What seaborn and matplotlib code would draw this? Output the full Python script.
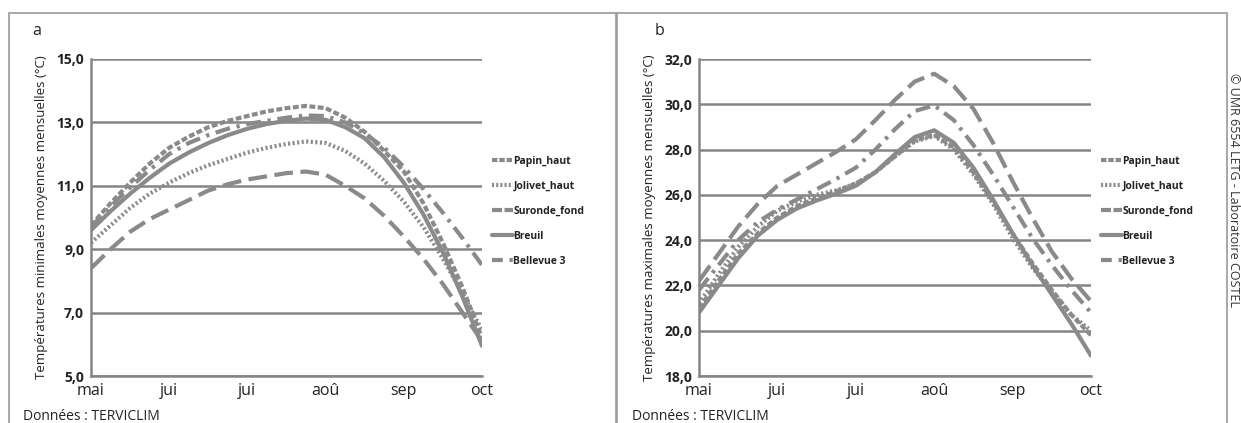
import numpy as np
import pandas as pd
import matplotlib
matplotlib.use("Agg")
import matplotlib.pyplot as plt
import seaborn as sns
from matplotlib.patches import Rectangle
from matplotlib.lines import Line2D

# ---------------- data ----------------
month_labels = ["mai", "jui", "jui", "aoû", "sep", "oct"]
month_pos = [0, 1, 2, 3, 4, 5]
x_pos = [0, 0.25, 0.5, 0.75, 1, 1.25, 1.5, 1.75, 2, 2.25, 2.5, 2.75, 3,
         3.25, 3.5, 3.75, 4, 4.25, 4.5, 4.75, 5]
stations = ["Papin_haut", "Jolivet_haut", "Suronde_fond", "Breuil", "Bellevue 3"]

# panel a : minimal temperatures
papin_min = [9.75, 10.45, 11.1, 11.7, 12.2, 12.55, 12.85, 13.05, 13.2, 13.35, 13.45,
             13.52, 13.45, 13.15, 12.7, 12.1, 11.45, 10.45, 9.2, 7.8, 6.2]
jolivet_min = [9.2, 9.75, 10.3, 10.75, 11.1, 11.4, 11.65, 11.85, 12.05, 12.2, 12.32,
               12.4, 12.35, 12.1, 11.7, 11.15, 10.5, 9.7, 8.7, 7.6, 6.45]
suronde_min = [8.4, 9.0, 9.55, 9.95, 10.25, 10.55, 10.85, 11.05, 11.2, 11.3, 11.4,
               11.45, 11.35, 11.0, 10.6, 10.05, 9.4, 8.7, 7.9, 7.0, 6.1]
breuil_min = [9.6, 10.2, 10.75, 11.25, 11.7, 12.05, 12.35, 12.6, 12.8, 12.95, 13.05,
              13.12, 13.08, 12.85, 12.5, 11.9, 11.1, 10.1, 8.9, 7.5, 5.95]
bellevue_min = [9.7, 10.35, 10.95, 11.5, 12.0, 12.35, 12.6, 12.8, 12.95, 13.05, 13.15,
                13.22, 13.2, 13.0, 12.65, 12.2, 11.6, 10.9, 10.15, 9.35, 8.5]

# panel b : maximal temperatures
papin_max = [21.0, 22.2, 23.4, 24.3, 25.0, 25.5, 25.85, 26.15, 26.5, 27.0, 27.7,
             28.4, 28.65, 28.1, 27.0, 25.7, 24.3, 23.0, 21.8, 20.7, 19.8]
jolivet_max = [21.2, 22.5, 23.7, 24.6, 25.3, 25.7, 26.0, 26.2, 26.5, 27.0, 27.7,
               28.35, 28.6, 28.0, 26.9, 25.6, 24.1, 22.8, 21.7, 20.7, 20.0]
suronde_max = [22.2, 23.4, 24.6, 25.6, 26.4, 26.9, 27.4, 27.9, 28.45, 29.3, 30.2,
               31.0, 31.35, 30.8, 29.8, 28.3, 26.6, 25.0, 23.5, 22.3, 21.3]
breuil_max = [20.8, 22.0, 23.2, 24.2, 24.9, 25.4, 25.75, 26.05, 26.4, 27.0, 27.8,
              28.55, 28.85, 28.3, 27.2, 25.8, 24.3, 22.9, 21.6, 20.3, 18.9]
bellevue_max = [21.8, 22.9, 24.0, 24.8, 25.35, 25.8, 26.25, 26.7, 27.2, 28.0, 28.9,
                29.7, 29.95, 29.3, 28.2, 26.9, 25.5, 24.1, 22.9, 21.8, 20.8]

yticks_a = [5, 7, 9, 11, 13, 15]
yticks_b = [18, 20, 22, 24, 26, 28, 30, 32]

# ---------------- style ----------------
sns.set_theme(style="white")
plt.rcParams["font.family"] = ["Open Sans", "DejaVu Sans"]

LINE = "#8a8a8a"
GRID = "#858585"
TXT = "#222222"
LW = 3.0

palette = {s: LINE for s in stations}
dashes = {
    "Papin_haut": (1.4, 0.6),
    "Jolivet_haut": (0.5, 0.6),
    "Suronde_fond": (4.5, 1.8),
    "Breuil": "",
    "Bellevue 3": (3.6, 1.6, 0.8, 1.6),
}
legend_dashes = {
    "Papin_haut": (1.3, 0.45),
    "Jolivet_haut": (0.5, 0.5),
    "Suronde_fond": (2.4, 0.6),
    "Breuil": "",
    "Bellevue 3": (2.6, 1.6, 0.8, 3.0),
}


def long_df(series):
    rows = []
    for name, vals in zip(stations, series):
        for x, v in zip(x_pos, vals):
            rows.append({"x": x, "t": v, "station": name})
    return pd.DataFrame(rows)


df_a = long_df([papin_min, jolivet_min, suronde_min, breuil_min, bellevue_min])
df_b = long_df([papin_max, jolivet_max, suronde_max, breuil_max, bellevue_max])

fig = plt.figure(figsize=(12.41, 4.23), dpi=100)
fig.patch.set_facecolor("white")

# panel frames
fig.add_artist(Rectangle((9 / 1241, -0.05), (616 - 9) / 1241, 1.05 - 13 / 423,
                         transform=fig.transFigure, fill=False, ec="#9a9a9a", lw=1.2))
fig.add_artist(Rectangle((617 / 1241, -0.05), (1227 - 617) / 1241, 1.05 - 13 / 423,
                         transform=fig.transFigure, fill=False, ec="#9a9a9a", lw=1.2))

ax_a = fig.add_axes([91 / 1241, 1 - 376 / 423, 391 / 1241, 317 / 423])
ax_b = fig.add_axes([699 / 1241, 1 - 376 / 423, 392 / 1241, 317 / 423])


def setup(ax, df, yticks, ylabel, letter, letter_x):
    sns.lineplot(data=df, x="x", y="t", hue="station", style="station",
                 palette=palette, dashes=dashes, hue_order=stations,
                 style_order=stations, linewidth=LW, ax=ax, sort=False,
                 legend=False)
    for ln in ax.get_lines():
        ln.set_solid_capstyle("round")
    ax.set_xlim(0, 5)
    ax.set_ylim(yticks[0], yticks[-1])
    ax.set_xticks(month_pos)
    ax.set_xticklabels(month_labels, fontsize=11.5, color=TXT)
    ax.set_yticks(yticks)
    ax.set_yticklabels([f"{v:.1f}".replace(".", ",") for v in yticks],
                       fontsize=10, fontweight="bold", color=TXT)
    ax.tick_params(axis="y", length=4, width=1.2, color=GRID, pad=1)
    ax.tick_params(axis="x", length=4, width=1.2, color=GRID, pad=1)
    ax.yaxis.grid(True, color=GRID, lw=1.8)
    ax.set_axisbelow(True)
    for s in ["top", "right"]:
        ax.spines[s].set_visible(False)
    for s in ["left", "bottom"]:
        ax.spines[s].set_color(GRID)
        ax.spines[s].set_linewidth(1.8)
    ax.set_xlabel("")
    ax.set_ylabel(ylabel, fontsize=9.5, color=TXT, labelpad=6)
    ax.set_facecolor("white")

    handles = []
    for s in stations:
        d = legend_dashes[s]
        if d == "":
            h = Line2D([], [], color=LINE, lw=LW, linestyle="-")
        else:
            h = Line2D([], [], color=LINE, lw=LW, dashes=d)
        handles.append(h)
    leg = ax.legend(handles, stations, loc="center left",
                    bbox_to_anchor=(1.015, 0.52), frameon=False,
                    fontsize=7.5, handlelength=2.0, handletextpad=0.05,
                    labelspacing=1.35, borderaxespad=0)
    for t in leg.get_texts():
        t.set_fontweight("bold")
        t.set_color(TXT)
    fig.text(letter_x, 1 - 31 / 423, letter, fontsize=11.5, color=TXT,
             ha="center", va="center")


setup(ax_a, df_a, yticks_a, "Températures minimales moyennes mensuelles (°C)", "a", 37 / 1241)
setup(ax_b, df_b, yticks_b, "Températures maximales moyennes mensuelles (°C)", "b", 660 / 1241)

fig.text(23 / 1241, 1 - 416 / 423, "Données : TERVICLIM", fontsize=10, color=TXT,
         ha="left", va="center")
fig.text(632 / 1241, 1 - 416 / 423, "Données : TERVICLIM", fontsize=10, color=TXT,
         ha="left", va="center")
fig.text(1233 / 1241, 1 - 190 / 423, "© UMR 6554 LETG - Laboratoire COSTEL",
         rotation=-90, fontsize=9, color="#333333", ha="center", va="center")

fig.savefig("out.png", dpi=100, facecolor="white")
